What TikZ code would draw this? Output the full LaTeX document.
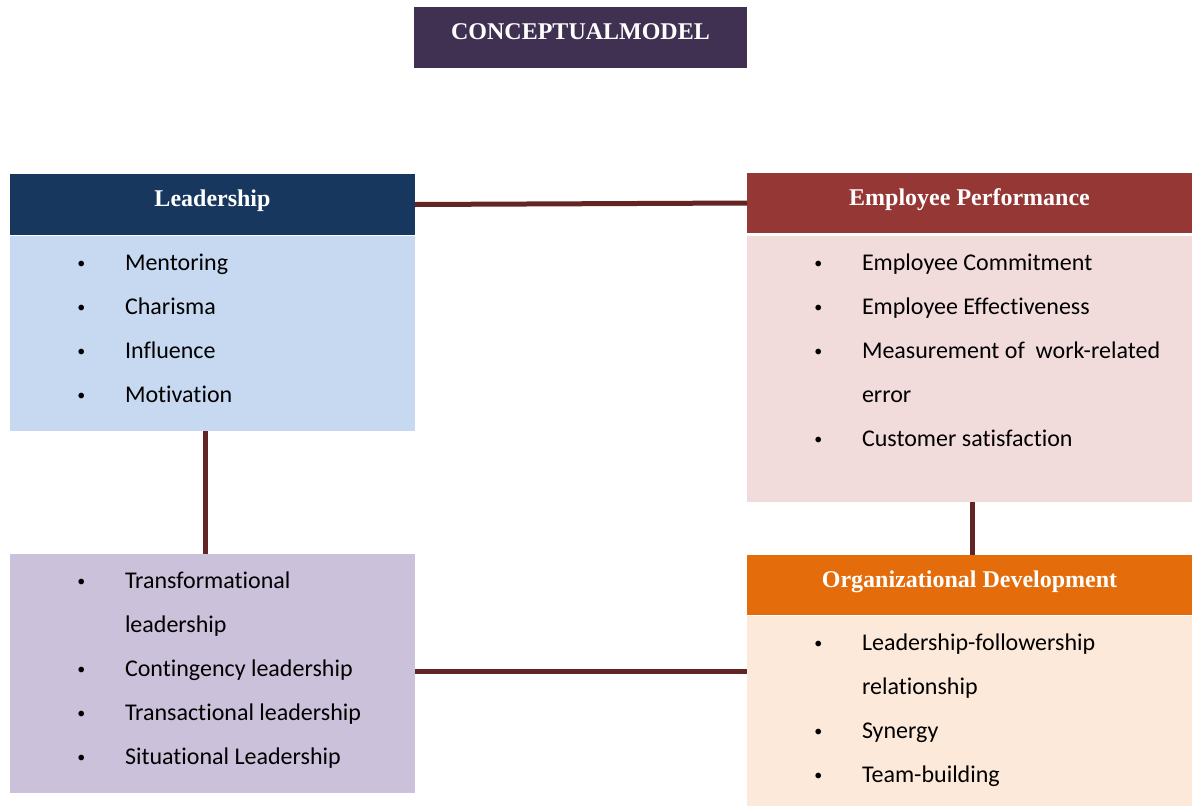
\documentclass[tikz,border=0pt]{standalone}
\usepackage{fontspec}
\setmainfont{Liberation Serif}
\newfontfamily\listfont[Ligatures={NoCommon}]{Carlito}
\usetikzlibrary{
	positioning,
	calc
}
\definecolor{TitlePlum}{RGB}{64,49,82}
\definecolor{LeadNavy}{RGB}{23,55,94}
\definecolor{LeadSky}{RGB}{198,217,241}
\definecolor{PerfRed}{RGB}{149,55,53}
\definecolor{PerfRose}{RGB}{242,220,219}
\definecolor{StyleLilac}{RGB}{204,193,218}
\definecolor{DevOrange}{RGB}{228,108,10}
\definecolor{DevPeach}{RGB}{253,233,217}
\definecolor{LinkBrown}{RGB}{99,37,35}

% one bullet line, wrapped lines hang under the text
\newcommand{\bul}[1]{\par\hangindent=86.25pt\hangafter=1\noindent\hspace*{50.5pt}\makebox[35.75pt][l]{\raisebox{1.5pt}{\fontsize{12pt}{12pt}\selectfont\textbullet}}#1}

\begin{document}
\begin{tikzpicture}[
	x=0.75pt,
	y=-0.75pt,
	header/.style={
		anchor=north west,
		inner sep=0pt,
		outer sep=0pt,
		text=white,
		font=\bfseries\fontsize{18pt}{21pt}\selectfont,
		text height=12pt,
		text depth=9pt
	},
	listbox/.style={
		inner sep=0pt,
		outer sep=0pt,
		font=\listfont\fontsize{18pt}{33pt}\selectfont
	},
	link/.style={
		LinkBrown,
		line width=3.75pt
	}
	]
	
	\useasboundingbox (0,0) rectangle (1192,807);
	
	\node[
	header,
	fill=TitlePlum,
	minimum width=249.75pt,
	minimum height=45.75pt
	] (title) at (414,7) {CONCEPTUALMODEL};
	
	% left column
	\node[
	header,
	fill=LeadNavy,
	minimum width=303.75pt,
	minimum height=45.75pt
	] (lead) at (10,174) {Leadership};
	
	\node[
	listbox,
	fill=LeadSky,
	below=0.75pt of lead
	] (leadlist) {\parbox[t][146.25pt][t]{303.75pt}{\vspace*{13.5pt}%
			\bul{Mentoring}
			\bul{Charisma}
			\bul{Influence}
			\bul{Motivation}}};
	
	\node[
	listbox,
	fill=StyleLilac,
	anchor=north west
	] (styles) at (10,554) {\parbox[t][179.25pt][t]{303.75pt}{\vspace*{13pt}%
			\bul{Transformational\\leadership}
			\bul{Contingency leadership}
			\bul{Transactional leadership}
			\bul{Situational Leadership}}};
	
	% right column
	\node[
	header,
	fill=PerfRed,
	minimum width=333.75pt,
	minimum height=45pt
	] (perf) at (747,173) {Employee Performance};
	
	\node[
	listbox,
	fill=PerfRose,
	below=2.25pt of perf
	] (perflist) {\parbox[t][199.5pt][t]{333.75pt}{\vspace*{13pt}%
			\bul{Employee Commitment}
			\bul{Employee Effectiveness}
			\bul{Measurement of~ work-related\\error}
			\bul{Customer satisfaction}}};
	
	\node[
	header,
	fill=DevOrange,
	minimum width=333.75pt,
	minimum height=45pt
	] (dev) at (747,555) {Organizational Development};
	
	\node[
	listbox,
	fill=DevPeach,
	below=0.75pt of dev
	] (devlist) {\parbox[t][142.5pt][t]{333.75pt}{\vspace*{13pt}%
			\bul{Leadership-followership\\relationship}
			\bul{Synergy}
			\bul{Team-building}}};
	
	% links between the blocks
	\draw[link] (lead.east) -- (perf.west);
	\draw[link] ([xshift=-4.9pt]leadlist.south) -- ([xshift=-4.9pt]styles.north);
	\draw[link] ([xshift=2.6pt]perflist.south) -- ([xshift=2.6pt]dev.north);
	\draw[link] ([yshift=1.8pt]styles.east) -- ([yshift=1.8pt]styles.east -| devlist.west);
	
\end{tikzpicture}
\end{document}
